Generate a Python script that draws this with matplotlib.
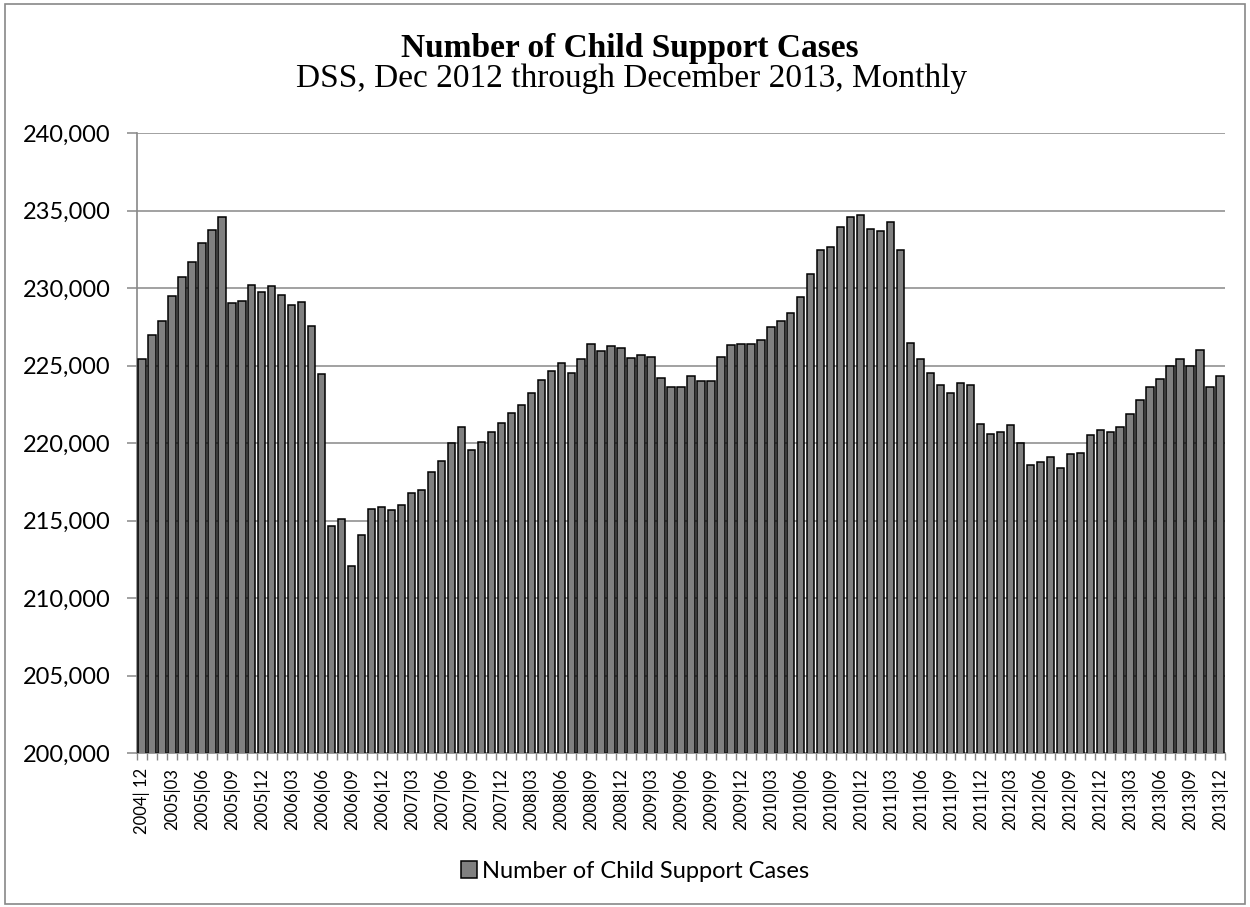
"""
Number of Child Support Cases - monthly bar chart
"""
import numpy as np
import matplotlib
matplotlib.use('Agg')
import matplotlib.pyplot as plt
from matplotlib.patches import Rectangle
from matplotlib.ticker import FuncFormatter

# Monthly case counts, 2004|12 through 2013|12
cases = [
    225400, 226960, 227870, 229500, 230730, 231660, 232890, 233730, 234590,
    229050, 229140, 230170, 229760, 230150, 229530, 228880, 229090, 227520,
    224480, 214660, 215110, 212070, 214050, 215710, 215840, 215650, 216010,
    216750, 216980, 218140, 218830, 220020, 221030, 219570, 220060, 220710,
    221310, 221940, 222460, 223250, 224090, 224630, 225130, 224530, 225390,
    226380, 225910, 226250, 226100, 225500, 225650, 225540, 224180, 223620,
    223600, 224310, 223990, 224030, 225540, 226310, 226380, 226380, 226620,
    227480, 227840, 228380, 229420, 230880, 232460, 232670, 233940, 234570,
    234740, 233830, 233690, 234250, 232460, 226470, 225430, 224530, 223770,
    223210, 223860, 223770, 221230, 220560, 220710, 221140, 220000, 218580,
    218750, 219100, 218360, 219310, 219370, 220500, 220840, 220690, 221060,
    221850, 222760, 223640, 224120, 224980, 225450, 224940, 226030, 223600,
    224330,
]

# Quarterly category labels (every third bar)
tick_labels = [
    '2004| 12', '2005|03', '2005|06', '2005|09', '2005|12', '2006|03',
    '2006|06', '2006|09', '2006|12', '2007|03', '2007|06', '2007|09',
    '2007|12', '2008|03', '2008|06', '2008|09', '2008|12', '2009|03',
    '2009|06', '2009|09', '2009|12', '2010|03', '2010|06', '2010|09',
    '2010|12', '2011|03', '2011|06', '2011|09', '2011|12', '2012|03',
    '2012|06', '2012|09', '2012|12', '2013|03', '2013|06', '2013|09',
    '2013|12',
]

y_ticks = [200000, 205000, 210000, 215000, 220000, 225000, 230000, 235000, 240000]

SANS = ['Lato', 'DejaVu Sans']
SERIF = ['Liberation Serif', 'DejaVu Serif']
GRID = '#888888'


def main():
    fig = plt.figure(figsize=(12.5, 9.07), dpi=100)
    ax = fig.add_axes([137 / 1250, 1 - 753 / 907, 1088 / 1250, 620 / 907])

    x = np.arange(len(cases))
    ax.bar(x, cases, width=0.74, color='#808080', edgecolor='black',
           linewidth=1.1, zorder=3, label='Number of Child Support Cases')

    ax.set_xlim(-0.5, len(cases) - 0.5)
    ax.set_ylim(200000, 240000)
    ax.set_yticks(y_ticks)
    ax.yaxis.set_major_formatter(FuncFormatter(lambda v, p: f'{int(v):,}'))
    ax.grid(axis='y', color=GRID, linewidth=1.1, zorder=0)

    # labels every 3rd month, tick marks at every category boundary
    ax.set_xticks(x[::3])
    ax.set_xticklabels(tick_labels, rotation=90, fontsize=12, family=SANS)
    ax.set_xticks(np.arange(-0.5, len(cases), 1), minor=True)
    ax.tick_params(axis='x', which='major', length=0, pad=11)
    ax.tick_params(axis='x', which='minor', length=5, color=GRID, width=1)
    ax.tick_params(axis='y', length=7, color=GRID, width=1.1, pad=12)
    for lbl in ax.get_yticklabels():
        lbl.set_family(SANS)
        lbl.set_fontsize(17)

    for side in ['top', 'right']:
        ax.spines[side].set_visible(False)
    for side in ['left', 'bottom']:
        ax.spines[side].set_color(GRID)
        ax.spines[side].set_linewidth(1.2)

    fig.text(0.504, 1 - 48 / 907, 'Number of Child Support Cases', ha='center',
             va='center', fontsize=24, fontweight='bold', family=SERIF)
    fig.text(0.505, 1 - 79 / 907, 'DSS, Dec 2012 through December 2013, Monthly',
             ha='center', va='center', fontsize=24, family=SERIF)

    fig.legend(loc='center', bbox_to_anchor=(0.508, 1 - 871 / 907), frameon=False,
               prop={'family': SANS, 'size': 17}, handlelength=0.7,
               handleheight=0.7, handletextpad=0.2)

    # outer chart border
    fig.patches.append(Rectangle((5 / 1250, 3 / 907), 1240 / 1250, 900 / 907,
                                 transform=fig.transFigure, fill=False,
                                 edgecolor=GRID, linewidth=1.2))

    fig.savefig('out.png', dpi=100, facecolor='white')
    plt.close(fig)


if __name__ == '__main__':
    main()
